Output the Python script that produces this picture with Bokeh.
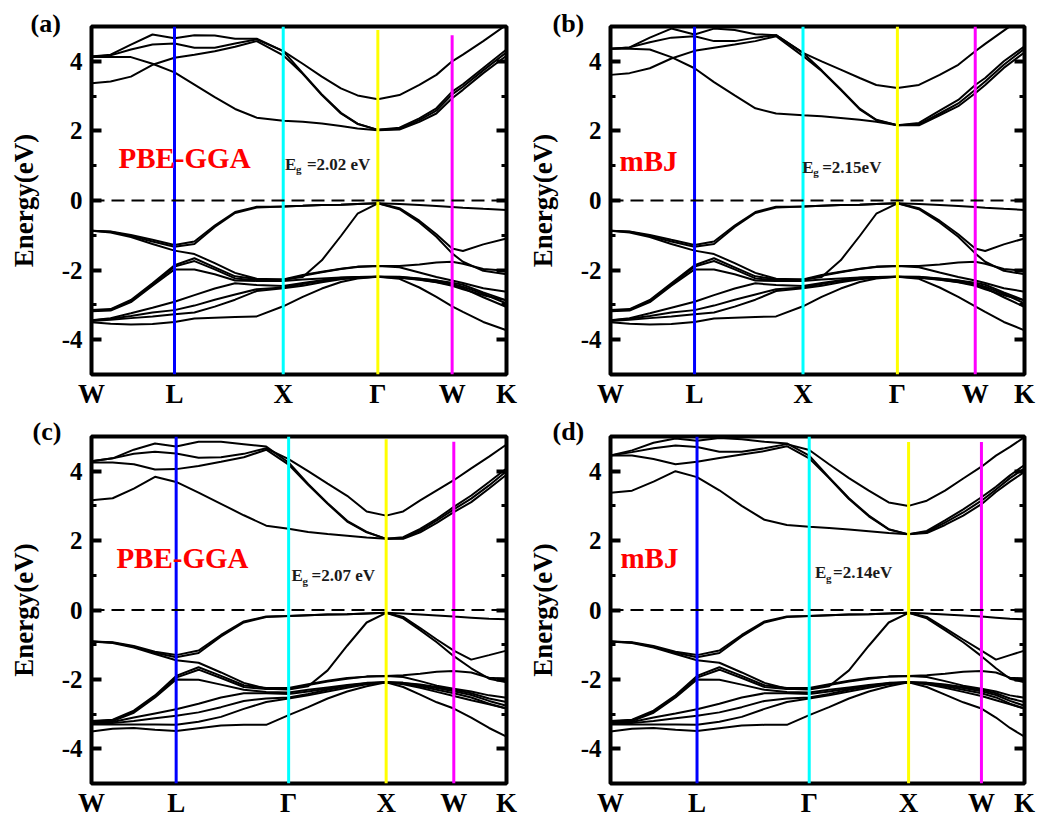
from bokeh.plotting import figure
from bokeh.models import (Range1d, FixedTicker, SingleIntervalTicker, LinearAxis, Span,
                          Label, Title)
from bokeh.layouts import row, column
from bokeh.embed import file_html
from bokeh.resources import INLINE

# ---------------- k-point grids (fraction of path length) ----------------
K_A = [0.0, 0.046, 0.095, 0.147, 0.200, 0.248, 0.297, 0.346, 0.398, 0.462, 0.509,
       0.555, 0.601, 0.641, 0.690, 0.742, 0.790, 0.831, 0.869, 0.895, 0.944, 1.0]
K_B = [0.0, 0.046, 0.095, 0.147, 0.203, 0.250, 0.300, 0.350, 0.400, 0.465, 0.510,
       0.556, 0.602, 0.642, 0.693, 0.745, 0.795, 0.840, 0.881, 0.905, 0.950, 1.0]
K_C = [0.0, 0.051, 0.102, 0.153, 0.204, 0.258, 0.312, 0.367, 0.421, 0.475, 0.522,
       0.569, 0.616, 0.663, 0.710, 0.751, 0.792, 0.832, 0.873, 0.915, 0.958, 1.0]
K_D = [0.0, 0.052, 0.104, 0.157, 0.209, 0.263, 0.317, 0.372, 0.426, 0.480, 0.528,
       0.576, 0.624, 0.672, 0.720, 0.764, 0.808, 0.852, 0.896, 0.931, 0.965, 1.0]

SYM_INDEX = [0, 4, 9, 14, 18, 21]
SYM_LABELS_AB = ["W", "L", "X", "Γ", "W", "K"]
SYM_LABELS_CD = ["W", "L", "Γ", "X", "W", "K"]

# ---------------- panel (a) conduction bands (eV) ----------------
CA1 = [4.12, 4.12, 4.12, 3.93, 3.68, 3.33, 2.97, 2.63, 2.38, 2.29, 2.26, 2.21, 2.14, 2.07, 2.02, 2.04, 2.26, 2.50, 2.94, 3.18, 3.66, 4.16]
CA2 = [3.37, 3.42, 3.56, 3.90, 4.10, 4.19, 4.29, 4.42, 4.58, 4.17, 3.64, 3.03, 2.50, 2.20, 2.03, 2.06, 2.31, 2.58, 3.05, 3.27, 3.74, 4.26]
CA3 = [4.14, 4.17, 4.34, 4.48, 4.51, 4.39, 4.39, 4.51, 4.63, 4.29, 3.93, 3.56, 3.22, 3.02, 2.91, 3.03, 3.32, 3.61, 4.00, 4.19, 4.58, 5.05]
CA4 = [4.14, 4.19, 4.48, 4.77, 4.66, 4.75, 4.74, 4.65, 4.65, 4.29, 3.66, 3.05, 2.52, 2.21, 2.03, 2.09, 2.36, 2.65, 3.13, 3.34, 3.81, 4.34]

# ---------------- panel (b) conduction bands (eV) ----------------
CB1 = [4.36, 4.36, 4.34, 4.12, 3.80, 3.40, 3.02, 2.65, 2.50, 2.45, 2.42, 2.37, 2.32, 2.26, 2.16, 2.16, 2.45, 2.71, 3.08, 3.32, 3.81, 4.26]
CB2 = [3.61, 3.66, 3.80, 4.08, 4.30, 4.39, 4.48, 4.58, 4.72, 4.15, 3.72, 3.18, 2.62, 2.31, 2.16, 2.19, 2.50, 2.79, 3.18, 3.42, 3.90, 4.36]
CB3 = [4.36, 4.40, 4.55, 4.68, 4.72, 4.58, 4.58, 4.68, 4.75, 4.24, 4.00, 3.76, 3.52, 3.32, 3.23, 3.32, 3.61, 3.90, 4.29, 4.50, 4.88, 5.30]
CB4 = [4.36, 4.40, 4.68, 4.94, 4.77, 4.94, 4.90, 4.78, 4.75, 4.24, 3.74, 3.20, 2.64, 2.32, 2.16, 2.23, 2.58, 2.89, 3.32, 3.52, 4.00, 4.43]

# ---------------- panels (a)/(b) valence bands (eV) ----------------
VA1 = [-0.87, -0.89, -0.99, -1.13, -1.28, -1.18, -0.72, -0.33, -0.18, -0.17, -0.15, -0.13, -0.12, -0.10, -0.08, -0.10, -0.13, -0.16, -0.19, -0.21, -0.24, -0.27]
VA2 = [-0.87, -0.90, -1.02, -1.18, -1.33, -1.25, -0.76, -0.36, -0.20, -0.17, -0.15, -0.13, -0.12, -0.10, -0.08, -0.22, -0.58, -0.97, -1.38, -1.45, -1.26, -1.09]
VA3 = [-0.87, -0.92, -1.05, -1.25, -1.44, -1.54, -1.80, -2.08, -2.25, -2.27, -2.20, -1.72, -1.02, -0.38, -0.08, -0.25, -0.63, -1.04, -1.52, -1.76, -2.02, -2.12]
VA4 = [-3.15, -3.12, -2.86, -2.38, -1.86, -1.66, -1.92, -2.18, -2.26, -2.27, -2.14, -2.05, -1.96, -1.90, -1.88, -1.88, -1.84, -1.78, -1.76, -1.82, -1.97, -2.02]
VA5 = [-3.16, -3.14, -2.89, -2.42, -1.90, -1.74, -1.98, -2.24, -2.29, -2.29, -2.16, -2.06, -1.97, -1.91, -1.88, -1.92, -2.07, -2.20, -2.30, -2.37, -2.52, -2.62]
VA6 = [-3.18, -3.16, -2.92, -2.45, -1.98, -1.98, -2.12, -2.30, -2.31, -2.31, -2.27, -2.24, -2.21, -2.20, -2.19, -2.20, -2.25, -2.30, -2.36, -2.42, -2.64, -2.87]
VA7 = [-3.44, -3.38, -3.24, -3.08, -2.91, -2.72, -2.53, -2.38, -2.43, -2.46, -2.37, -2.29, -2.22, -2.20, -2.19, -2.19, -2.24, -2.30, -2.40, -2.48, -2.68, -2.96]
VA8 = [-3.45, -3.40, -3.32, -3.22, -3.15, -3.02, -2.85, -2.70, -2.55, -2.50, -2.40, -2.31, -2.24, -2.21, -2.19, -2.21, -2.27, -2.34, -2.42, -2.52, -2.78, -3.06]
VA9 = [-3.46, -3.43, -3.38, -3.33, -3.27, -3.22, -3.05, -2.85, -2.60, -2.52, -2.45, -2.35, -2.26, -2.22, -2.19, -2.22, -2.28, -2.35, -2.45, -2.55, -2.72, -2.87]
VA10 = [-3.50, -3.54, -3.56, -3.55, -3.49, -3.39, -3.37, -3.35, -3.33, -3.04, -2.77, -2.53, -2.34, -2.24, -2.19, -2.25, -2.50, -2.77, -3.04, -3.20, -3.49, -3.73]

# ---------------- panel (c) conduction bands (eV) ----------------
CC1 = [3.16, 3.22, 3.50, 3.84, 3.69, 3.38, 3.06, 2.73, 2.43, 2.34, 2.25, 2.19, 2.14, 2.09, 2.05, 2.05, 2.24, 2.51, 2.82, 3.11, 3.50, 3.90]
CC2 = [4.25, 4.25, 4.20, 4.05, 4.06, 4.15, 4.27, 4.40, 4.62, 4.19, 3.61, 3.06, 2.55, 2.24, 2.05, 2.07, 2.29, 2.58, 2.90, 3.21, 3.59, 4.00]
CC3 = [4.29, 4.37, 4.50, 4.56, 4.51, 4.39, 4.40, 4.50, 4.66, 4.35, 4.00, 3.64, 3.29, 2.84, 2.72, 2.84, 3.16, 3.45, 3.74, 4.08, 4.42, 4.77]
CC4 = [4.29, 4.37, 4.62, 4.80, 4.71, 4.85, 4.85, 4.78, 4.71, 4.25, 3.63, 3.08, 2.57, 2.25, 2.05, 2.10, 2.34, 2.63, 2.97, 3.30, 3.69, 4.08]

# ---------------- panel (d) conduction bands (eV) ----------------
CD1 = [3.38, 3.44, 3.70, 4.00, 3.83, 3.45, 3.00, 2.60, 2.45, 2.40, 2.36, 2.32, 2.27, 2.22, 2.18, 2.22, 2.45, 2.72, 3.05, 3.40, 3.70, 3.98]
CD2 = [4.45, 4.45, 4.35, 4.20, 4.27, 4.38, 4.48, 4.58, 4.72, 4.37, 3.80, 3.20, 2.70, 2.32, 2.18, 2.25, 2.52, 2.81, 3.15, 3.47, 3.80, 4.08]
CD3 = [4.45, 4.55, 4.66, 4.74, 4.70, 4.56, 4.56, 4.66, 4.78, 4.61, 4.20, 3.80, 3.44, 3.10, 3.00, 3.15, 3.44, 3.79, 4.13, 4.45, 4.70, 4.98]
CD4 = [4.45, 4.60, 4.82, 4.94, 4.88, 4.96, 4.92, 4.85, 4.80, 4.45, 3.82, 3.22, 2.72, 2.33, 2.18, 2.28, 2.58, 2.90, 3.25, 3.55, 3.88, 4.18]

# ---------------- panels (c)/(d) valence bands (eV) ----------------
VC1 = [-0.91, -0.93, -1.04, -1.20, -1.30, -1.17, -0.72, -0.33, -0.19, -0.17, -0.15, -0.13, -0.12, -0.10, -0.08, -0.10, -0.13, -0.16, -0.19, -0.22, -0.25, -0.27]
VC2 = [-0.91, -0.94, -1.06, -1.23, -1.36, -1.24, -0.76, -0.36, -0.20, -0.17, -0.15, -0.13, -0.12, -0.10, -0.08, -0.20, -0.52, -0.85, -1.17, -1.43, -1.30, -1.17]
VC3 = [-0.91, -0.95, -1.08, -1.27, -1.45, -1.52, -1.80, -2.10, -2.27, -2.29, -2.20, -1.74, -1.03, -0.36, -0.08, -0.24, -0.58, -0.93, -1.33, -1.68, -1.98, -2.08]
VC4 = [-3.20, -3.16, -2.90, -2.46, -1.90, -1.65, -1.90, -2.17, -2.25, -2.25, -2.14, -2.04, -1.96, -1.92, -1.90, -1.88, -1.84, -1.78, -1.76, -1.80, -1.95, -1.98]
VC5 = [-3.21, -3.18, -2.93, -2.50, -1.95, -1.72, -1.96, -2.22, -2.28, -2.28, -2.16, -2.06, -1.98, -1.92, -1.90, -1.93, -2.05, -2.18, -2.27, -2.35, -2.46, -2.53]
VC6 = [-3.22, -3.20, -2.96, -2.52, -2.00, -2.01, -2.15, -2.30, -2.36, -2.38, -2.30, -2.23, -2.16, -2.10, -2.08, -2.10, -2.15, -2.22, -2.30, -2.40, -2.55, -2.65]
VC7 = [-3.26, -3.23, -3.10, -2.98, -2.86, -2.70, -2.52, -2.40, -2.40, -2.42, -2.35, -2.26, -2.18, -2.11, -2.08, -2.10, -2.17, -2.25, -2.34, -2.45, -2.62, -2.76]
VC8 = [-3.28, -3.26, -3.20, -3.12, -3.05, -2.95, -2.80, -2.62, -2.55, -2.52, -2.42, -2.30, -2.20, -2.12, -2.08, -2.12, -2.20, -2.30, -2.40, -2.52, -2.70, -2.84]
VC9 = [-3.30, -3.30, -3.30, -3.30, -3.31, -3.22, -3.08, -2.85, -2.65, -2.55, -2.46, -2.35, -2.24, -2.14, -2.08, -2.14, -2.24, -2.36, -2.48, -2.60, -2.72, -2.84]
VC10 = [-3.50, -3.42, -3.40, -3.45, -3.49, -3.41, -3.33, -3.31, -3.31, -3.03, -2.80, -2.55, -2.35, -2.20, -2.08, -2.22, -2.44, -2.66, -2.84, -3.10, -3.40, -3.65]

VALENCE_AB = [VA1, VA2, VA3, VA4, VA5, VA6, VA7, VA8, VA9, VA10]
VALENCE_CD = [VC1, VC2, VC3, VC4, VC5, VC6, VC7, VC8, VC9, VC10]

GAP_TEXT = {"a": "=2.02 eV", "b": "=2.15eV", "c": "=2.07 eV", "d": "=2.14eV"}
METHOD = {"a": "PBE-GGA", "b": "mBJ", "c": "PBE-GGA", "d": "mBJ"}

FONT = "Liberation Serif"
VLINE_COLORS = ["#0000ff", "#00ffff", "#ffff00", "#ff00ff"]


def band_panel(tag, k, bands, sym_labels, geo, vtops, txt):
    p = figure(width=geo["w"], height=geo["h"],
               x_range=Range1d(0, 1), y_range=Range1d(-5, 5),
               output_backend="svg", toolbar_location=None,
               min_border_left=geo["l"], min_border_right=geo["r"],
               min_border_top=geo["t"], min_border_bottom=geo["b"])
    p.xgrid.visible = False
    p.ygrid.visible = False
    p.outline_line_color = "black"
    p.outline_line_width = 4
    p.background_fill_color = "white"
    p.border_fill_color = "white"

    for b in bands:
        p.line(k, b, line_color="black", line_width=2)

    sx = [k[i] for i in SYM_INDEX[1:5]]
    p.segment(x0=sx, y0=[-5] * 4, x1=sx, y1=vtops, line_color=VLINE_COLORS, line_width=3)

    p.add_layout(Span(location=0, dimension="width", line_color="black",
                      line_width=2, line_dash="13 7"))

    # x axis
    ticks = [k[i] for i in SYM_INDEX]
    xa = p.xaxis[0]
    xa.ticker = FixedTicker(ticks=ticks)
    xa.major_label_overrides = {t: s for t, s in zip(ticks, sym_labels)}
    xa.major_tick_in = 0
    xa.major_tick_out = 0
    xa.minor_tick_in = 0
    xa.minor_tick_out = 0
    xa.axis_line_color = None
    xa.major_label_text_font = FONT
    xa.major_label_text_font_style = "bold"
    xa.major_label_text_font_size = "27px"
    xa.major_label_text_color = "black"
    xa.major_label_standoff = 4

    # y axis
    ya = p.yaxis[0]
    ya.ticker = SingleIntervalTicker(interval=2, num_minor_ticks=2)
    ya.major_label_overrides = {-4: "-4", -2: "-2", 0: "0", 2: "2", 4: "4"}
    ya.major_tick_in = 10
    ya.major_tick_out = 0
    ya.minor_tick_in = 5
    ya.minor_tick_out = 0
    ya.major_tick_line_width = 4
    ya.minor_tick_line_width = 3
    ya.axis_line_color = None
    ya.major_label_text_font = FONT
    ya.major_label_text_font_style = "bold"
    ya.major_label_text_font_size = "25px"
    ya.major_label_text_color = "black"
    ya.major_label_standoff = 9
    ya.axis_label = "Energy(eV)"
    ya.axis_label_text_font = FONT
    ya.axis_label_text_font_style = "bold"
    ya.axis_label_text_font_size = "27px"
    ya.axis_label_text_color = "black"
    ya.axis_label_standoff = 20

    ra = LinearAxis(ticker=SingleIntervalTicker(interval=2, num_minor_ticks=2),
                    major_label_overrides={-4: "", -2: "", 0: "", 2: "", 4: ""},
                    major_tick_in=10, major_tick_out=0, minor_tick_in=5, minor_tick_out=0,
                    major_tick_line_width=4, minor_tick_line_width=3,
                    axis_line_color=None, major_label_standoff=0)
    p.add_layout(ra, "right")

    # panel tag, placed in the top border next to the frame
    p.add_layout(Title(text="(" + tag + ")", align="left", offset=txt["tag_dx"],
                       standoff=txt["tag_standoff"], text_font=FONT, text_font_style="bold",
                       text_font_size="26px", text_color="black"), "above")

    p.add_layout(Label(x=txt["method"][0], y=txt["method"][1], text=METHOD[tag],
                       text_font=FONT, text_font_style="bold", text_font_size="29px",
                       text_color="#ff0000", text_baseline="alphabetic"))
    gx, gy, goff = txt["gap"]
    p.add_layout(Label(x=gx, y=gy, text="E", text_font=FONT, text_font_style="bold",
                       text_font_size="17px", text_color="#1a1a1a", text_baseline="alphabetic"))
    p.add_layout(Label(x=gx, y=gy, x_offset=11, y_offset=-5, text="g", text_font=FONT,
                       text_font_style="bold", text_font_size="11px", text_color="#1a1a1a",
                       text_baseline="alphabetic"))
    p.add_layout(Label(x=gx, y=gy, x_offset=goff, text=GAP_TEXT[tag], text_font=FONT,
                       text_font_style="bold", text_font_size="17px", text_color="#1a1a1a",
                       text_baseline="alphabetic"))
    return p


pa = band_panel("a", K_A, [CA1, CA2, CA3, CA4] + VALENCE_AB, SYM_LABELS_AB,
                dict(w=523, h=414, l=91, r=17, t=26, b=40), [5, 5, 4.9, 4.75],
                dict(tag_dx=-61, tag_standoff=-22, method=(0.065, 1.22), gap=(0.466, 1.04, 22)))
pb = band_panel("b", K_B, [CB1, CB2, CB3, CB4] + VALENCE_AB, SYM_LABELS_AB,
                dict(w=521, h=414, l=87, r=20, t=26, b=40), [5, 5, 5, 5],
                dict(tag_dx=-58, tag_standoff=-22, method=(0.022, 1.13), gap=(0.463, 0.95, 20)))
pc = band_panel("c", K_C, [CC1, CC2, CC3, CC4] + VALENCE_CD, SYM_LABELS_CD,
                dict(w=523, h=406, l=91, r=17, t=22, b=36), [5, 5, 4.92, 4.85],
                dict(tag_dx=-59, tag_standoff=-18, method=(0.06, 1.5), gap=(0.482, 0.98, 20)))
pd_ = band_panel("d", K_D, [CD1, CD2, CD3, CD4] + VALENCE_CD, SYM_LABELS_CD,
                 dict(w=521, h=406, l=87, r=20, t=22, b=36), [5, 5, 4.84, 4.84],
                 dict(tag_dx=-58, tag_standoff=-18, method=(0.024, 1.5), gap=(0.494, 1.07, 18)))

layout = column(row(pa, pb), row(pc, pd_))
open("out.html", "w").write(file_html(layout, INLINE))
